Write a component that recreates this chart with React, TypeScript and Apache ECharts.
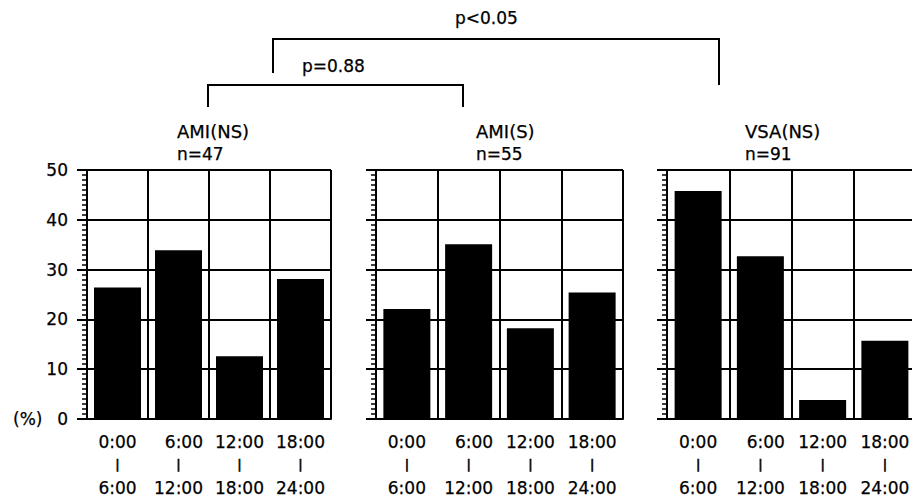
import React, { useEffect, useRef } from "react";
import * as echarts from "echarts";

const periodStart = ["0:00", "6:00", "12:00", "18:00"];
const periodEnd = ["6:00", "12:00", "18:00", "24:00"];
const groupNames = ["AMI(NS)", "AMI(S)", "VSA(NS)"];
const groupCounts = ["n=47", "n=55", "n=91"];
const amiNS = [26.4, 33.9, 12.6, 28.1];
const amiS = [22.1, 35.1, 18.2, 25.4];
const vsaNS = [45.8, 32.7, 3.8, 15.7];
const yMin = 0;
const yMax = 50;
const yInterval = 10;
const unitLabel = "(%)";
const pLabels = ["p=0.88", "p<0.05"];

const FONT = "DejaVu Sans";
const BLACK = "#000";
const BORDER = 0.25;

const grids = [
  { left: 87, right: 581 },
  { left: 376, right: 289 },
  { left: 667, right: -4 },
];
const titleX = [177, 476, 745];

function txt(text: string, x: number, y: number, size = 17) {
  return {
    type: "text",
    x,
    y,
    style: {
      text,
      fontFamily: FONT,
      fontSize: size,
      fill: BLACK,
      stroke: BLACK,
      lineWidth: BORDER,
      verticalAlign: "middle",
    },
  };
}

export default function App() {
  const ref = useRef<HTMLDivElement>(null);
  useEffect(() => {
    if (!ref.current) return;
    const chart = echarts.init(ref.current, null, { renderer: "svg" });
    const seriesData = [amiNS, amiS, vsaNS];
    const option: any = {
      animation: false,
      backgroundColor: "#fff",
      grid: grids.map((g) => ({
        left: g.left,
        right: g.right,
        top: 170,
        bottom: 77,
        containLabel: false,
        outerBoundsMode: "none",
      })),
      xAxis: grids.map((_, i) => ({
        type: "category",
        gridIndex: i,
        data: periodStart.map((s, k) => s + "-" + periodEnd[k]),
        boundaryGap: true,
        axisLine: { show: true, lineStyle: { color: BLACK, width: 2 } },
        axisTick: { show: false },
        splitLine: { show: true, lineStyle: { color: BLACK, width: 2 } },
        axisLabel: {
          interval: 0,
          margin: 11,
          formatter: (_v: string, idx: number) =>
            `{t|${periodStart[idx]}}\n{m||}\n{t|${periodEnd[idx]}}`,
          rich: {
            t: {
              fontFamily: FONT,
              fontSize: 17,
              color: BLACK,
              textBorderColor: BLACK,
              textBorderWidth: BORDER,
              lineHeight: 23,
              align: "right",
            },
            m: {
              fontFamily: FONT,
              fontSize: 13,
              color: BLACK,
              textBorderColor: BLACK,
              textBorderWidth: 0.6,
              lineHeight: 23,
              align: "center",
            },
          },
        },
      })),
      yAxis: grids.map((_, i) => ({
        type: "value",
        gridIndex: i,
        min: yMin,
        max: yMax,
        interval: yInterval,
        axisLine: { show: true, lineStyle: { color: BLACK, width: 2 } },
        axisTick: { show: true, length: 10, lineStyle: { color: BLACK, width: 2 } },
        minorTick: {
          show: true,
          splitNumber: 10,
          length: 5,
          lineStyle: { color: BLACK, width: 1.5 },
        },
        splitLine: { show: true, lineStyle: { color: BLACK, width: 2 } },
        axisLabel: {
          show: i === 0,
          margin: 19,
          fontFamily: FONT,
          fontSize: 17,
          color: BLACK,
          textBorderColor: BLACK,
          textBorderWidth: BORDER,
        },
      })),
      series: seriesData.map((d, i) => ({
        type: "bar",
        xAxisIndex: i,
        yAxisIndex: i,
        data: d,
        barWidth: 47,
        itemStyle: { color: BLACK },
        z: 3,
      })),
      graphic: [
        txt(unitLabel, 13, 419),
        ...groupNames.map((n, i) => txt(n, titleX[i], 131, 18)),
        ...groupCounts.map((n, i) => txt(n, titleX[i], 154, 17)),
        {
          type: "polyline",
          shape: { points: [[208, 107], [208, 85], [463, 85], [463, 107]] },
          style: { stroke: BLACK, lineWidth: 2, fill: null },
        },
        {
          type: "polyline",
          shape: { points: [[273, 73], [273, 39], [719, 39], [719, 85]] },
          style: { stroke: BLACK, lineWidth: 2, fill: null },
        },
        txt(pLabels[0], 302, 66),
        txt(pLabels[1], 455, 18),
      ],
    };
    chart.setOption(option);
    return () => chart.dispose();
  }, []);
  return (
    <div
      ref={ref}
      style={{ position: "fixed", left: 0, top: 0, width: 912, height: 496 }}
    />
  );
}
